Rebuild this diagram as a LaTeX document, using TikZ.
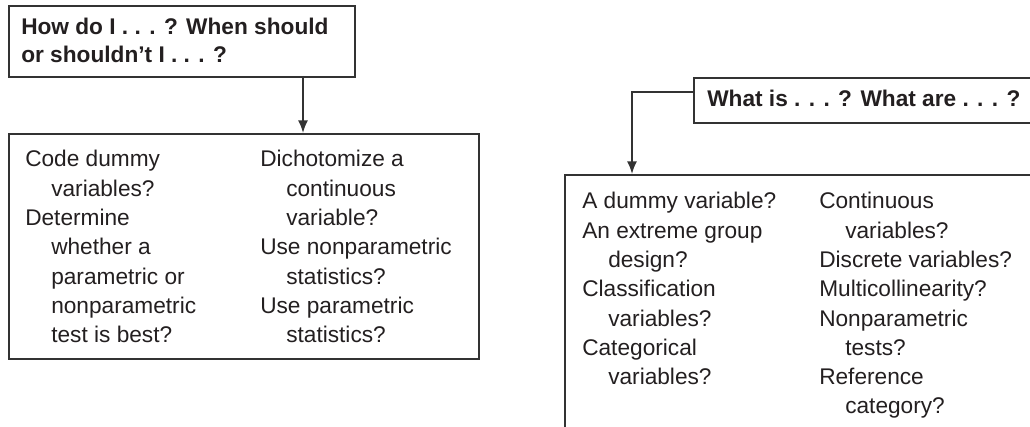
\documentclass[tikz,border=0pt]{standalone}
\usepackage{fontspec}
\setmainfont{Liberation Sans}
\usetikzlibrary{arrows.meta}

\definecolor{inkline}{HTML}{333333}
\definecolor{inktext}{HTML}{231F20}
\newcommand{\ind}{\hspace*{19.5pt}}
\newcommand{\qcol}[1]{\begin{tabular}[t]{@{}l@{}}#1\end{tabular}}

\begin{document}
\begin{tikzpicture}[x=0.75pt,y=0.75pt,yscale=-1,xscale=1,
  qbox/.style={draw=inkline,line width=1.2pt,anchor=north west,inner sep=0pt},
  qtext/.style={anchor=base west,inner sep=0pt,text=inktext,font=\fontsize{17}{21.95}\selectfont},
  qhead/.style={anchor=base west,inner sep=0pt,text=inktext,font=\bfseries\fontsize{17}{21}\selectfont},
  qarrow/.style={draw=inkline,line width=1.2pt,-{Latex[length=9.5pt,width=7.5pt]}}]
\useasboundingbox (0,0) rectangle (1030,427);
\clip (0,0) rectangle (1030,427);

%Shape: Rectangle [how box]
\node[qbox,minimum width=259.5pt,minimum height=53.25pt] (howbox) at (8,5) {};
%Shape: Rectangle [do box]
\node[qbox,minimum width=352.5pt,minimum height=168.75pt] (dobox) at (8,133) {};
%Shape: Rectangle [what box, runs off the right edge]
\node[qbox,minimum width=264pt,minimum height=33.75pt] (whatbox) at (693,77) {};
%Shape: Rectangle [is box, runs off the right and bottom edges]
\node[qbox,minimum width=360.75pt,minimum height=199.5pt] (isbox) at (564,174) {};

% Text Node
\node[qhead] (howtext) at (21,35) {\qcol{How do I . . . ? When should\\or shouldn’t I . . . ?}};
% Text Node
\node[qhead] (whattext) at (707,107) {What is . . . ? What are . . . ?};
% Text Node
\node[qtext] (dotextA) at (25,167) {\qcol{Code dummy\\
  \ind variables?\\
  Determine\\
  \ind whether a\\
  \ind parametric or\\
  \ind nonparametric\\
  \ind test is best?}};
% Text Node
\node[qtext] (dotextB) at (260,167) {\qcol{Dichotomize a\\
  \ind continuous\\
  \ind variable?\\
  Use nonparametric\\
  \ind statistics?\\
  Use parametric\\
  \ind statistics?}};
% Text Node
\node[qtext] (istextA) at (582,209) {\qcol{A dummy variable?\\
  An extreme group\\
  \ind design?\\
  Classification\\
  \ind variables?\\
  Categorical\\
  \ind variables?}};
% Text Node
\node[qtext] (istextB) at (819,209) {\qcol{Continuous\\
  \ind variables?\\
  Discrete variables?\\
  Multicollinearity?\\
  Nonparametric\\
  \ind tests?\\
  Reference\\
  \ind category?}};

%Connectors
\coordinate (howout) at (303,76);
\coordinate (whatout) at (693,92);
\coordinate (isin) at (632,174);
\draw[qarrow] (howout) -- (howout |- dobox.north);
\draw[qarrow] (whatout) -| (isin);

\end{tikzpicture}
\end{document}
